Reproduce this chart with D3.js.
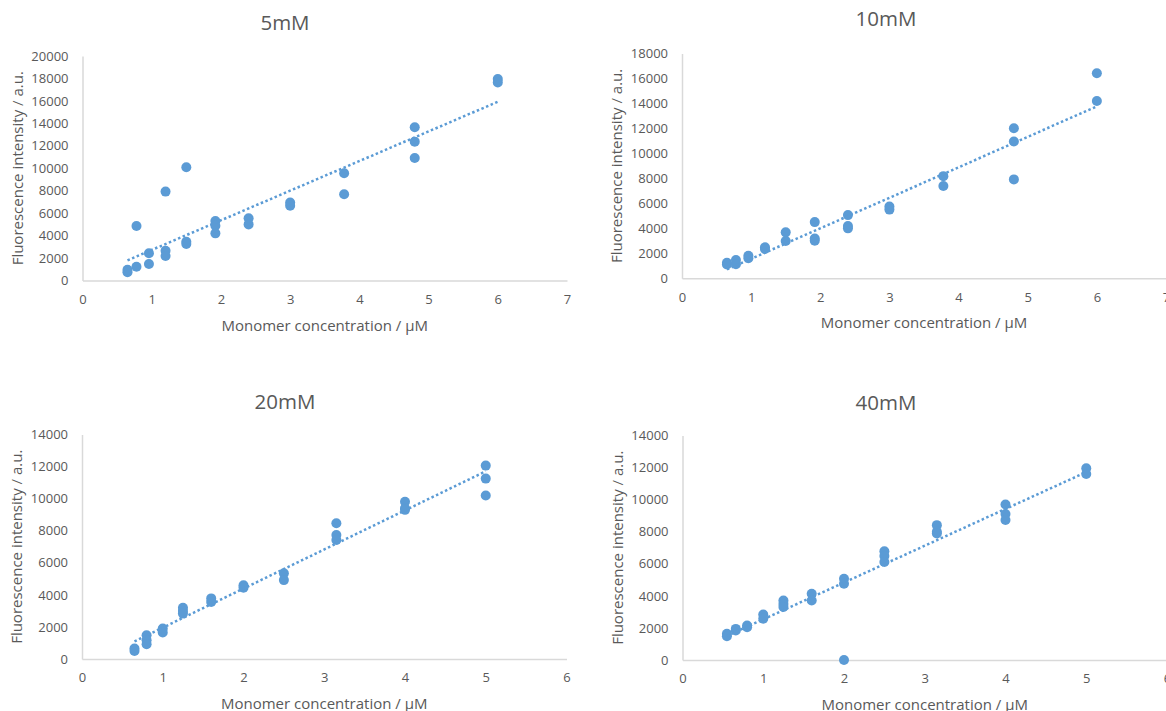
<!DOCTYPE html>
<html>
<head>
<meta charset="utf-8">
<script src="https://cdn.jsdelivr.net/npm/d3@7"></script>
<style>
  body { margin: 0; background: #fff; }
  svg text { font-family: "Open Sans", sans-serif; fill: #595959; }
</style>
</head>
<body>
<svg id="chart" width="1166" height="711"></svg>
<script>
// 5mM
var x5mM = [0.65,0.65,0.78,0.78,0.96,0.96,1.2,1.2,1.2,1.5,1.5,1.5,1.92,1.92,1.92,2.4,2.4,3,3,3.78,3.78,4.8,4.8,4.8,6,6];
var y5mM = [730,950,1230,4850,2420,1470,2650,2180,7920,10090,3460,3260,5300,4880,4200,5540,5000,6940,6670,9550,7680,13650,12370,10910,17950,17650];
// 10mM
var x10mM = [0.65,0.65,0.78,0.78,0.96,0.96,1.2,1.2,1.5,1.5,1.92,1.92,1.92,2.4,2.4,2.4,3,3,3.78,3.78,4.8,4.8,4.8,6,6];
var y10mM = [1250,1100,1460,1120,1800,1600,2480,2350,3680,2990,4500,3180,3000,5060,4190,4000,5750,5500,8180,7390,12020,10950,7920,16420,14200];
// 20mM
var x20mM = [0.65,0.65,0.8,0.8,0.8,1,1,1.25,1.25,1.25,1.6,1.6,2,2,2.5,2.5,3.15,3.15,3.15,4,4,4,5,5,5];
var y20mM = [650,500,1480,1170,920,1900,1650,3190,3000,2830,3780,3560,4600,4440,5340,4920,8460,7730,7420,9810,9400,9300,12060,11250,10200];
// 40mM
var x40mM = [0.55,0.55,0.66,0.66,0.8,0.8,1,1,1.25,1.25,1.25,1.6,1.6,2,2,2,2.5,2.5,2.5,3.15,3.15,3.15,4,4,4,5,5];
var y40mM = [1630,1480,1940,1840,2150,2040,2840,2570,3710,3500,3300,4130,3710,5070,4760,0,6780,6490,6110,8410,7990,7890,9700,9100,8730,11960,11600];

var titles = ["5mM", "10mM", "20mM", "40mM"];
var xMax = [7, 7, 6, 6];
var yMax = [20000, 18000, 14000, 14000];
var yStep = 2000;
var xLabel = "Monomer concentration / \u00b5M";
var yLabel = "Fluorescence intensity / a.u.";

var color = "#5B9BD5";
var svg = d3.select("#chart");

// plot boxes: left, right, top, bottom, title x, title y
var boxes = [
    {l: 82.5, r: 567, t: 56, b: 280.5, tx: 285, ty: 22},
    {l: 682, r: 1166, t: 53.5, b: 278.3, tx: 886, ty: 18},
    {l: 82, r: 566.5, t: 434.5, b: 659, tx: 285, ty: 401},
    {l: 682.5, r: 1167, t: 435.5, b: 660, tx: 886, ty: 402}
];

var xs = [x5mM, x10mM, x20mM, x40mM];
var ys = [y5mM, y10mM, y20mM, y40mM];

// least squares, like the sheet's linear trendline
function fit(xv, yv) {
    var n = xv.length, mx = d3.mean(xv), my = d3.mean(yv), sxy = 0, sxx = 0;
    for (var i = 0; i < n; i++) {
        sxy += (xv[i] - mx) * (yv[i] - my);
        sxx += (xv[i] - mx) * (xv[i] - mx);
    }
    var k = sxy / sxx;
    return {k: k, c: my - k * mx};
}

boxes.forEach(function (bx, p) {
    var x = d3.scaleLinear().domain([0, xMax[p]]).range([bx.l, bx.r]);
    var y = d3.scaleLinear().domain([0, yMax[p]]).range([bx.b, bx.t]);
    var g = svg.append("g");

    g.append("text")
        .attr("x", bx.tx).attr("y", bx.ty)
        .attr("text-anchor", "middle").attr("dominant-baseline", "central")
        .style("font-size", "20.5px")
        .text(titles[p]);

    var xAxis = g.append("g")
        .attr("transform", "translate(0," + bx.b + ")")
        .call(d3.axisBottom(x).ticks(xMax[p]).tickSize(0).tickPadding(14).tickFormat(d3.format("d")));
    var yAxis = g.append("g")
        .attr("transform", "translate(" + bx.l + ",0)")
        .call(d3.axisLeft(y).tickValues(d3.range(0, yMax[p] + 1, yStep)).tickSize(0).tickPadding(14).tickFormat(d3.format("d")));
    [xAxis, yAxis].forEach(function (a) {
        a.select(".domain").attr("stroke", "#d9d9d9").attr("stroke-width", 1.5);
        a.selectAll("text").style("font-size", "13px").attr("fill", "#595959");
    });

    g.append("text")
        .attr("x", (bx.l + bx.r) / 2).attr("y", bx.b + 44)
        .attr("text-anchor", "middle").attr("dominant-baseline", "central")
        .style("font-size", "15px")
        .text(xLabel);
    g.append("text")
        .attr("transform", "translate(" + (bx.l - 66) + "," + ((bx.t + bx.b) / 2) + ") rotate(-90)")
        .attr("text-anchor", "middle").attr("dominant-baseline", "central")
        .style("font-size", "15px")
        .text(yLabel);

    var pts = xs[p].map(function (v, i) { return [v, ys[p][i]]; });
    g.selectAll("circle").data(pts).enter().append("circle")
        .attr("cx", function (d) { return x(d[0]); })
        .attr("cy", function (d) { return y(d[1]); })
        .attr("r", 5)
        .attr("fill", color);

    var f = fit(xs[p], ys[p]);
    var ext = d3.extent(xs[p]);
    g.append("line")
        .attr("x1", x(ext[0])).attr("y1", y(f.k * ext[0] + f.c))
        .attr("x2", x(ext[1])).attr("y2", y(f.k * ext[1] + f.c))
        .attr("stroke", color).attr("stroke-width", 2.5)
        .attr("stroke-dasharray", "2.5,2.5");
});
</script>
</body>
</html>
